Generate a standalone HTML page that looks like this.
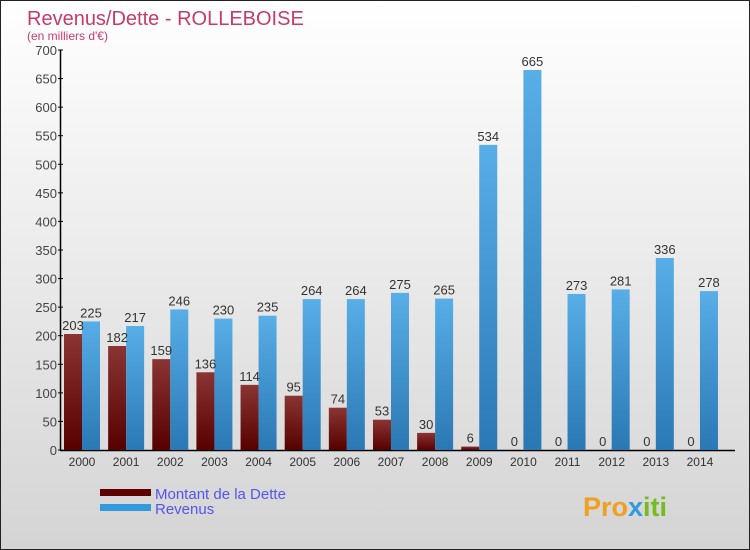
<!DOCTYPE html>
<html><head><meta charset="utf-8"><style>
body{margin:0}
#c{width:750px;height:550px;position:relative;overflow:hidden;font-family:"Liberation Sans",sans-serif}
</style></head><body>
<div id="c">
<svg width="750" height="550" xmlns="http://www.w3.org/2000/svg">
<defs>
<linearGradient id="bg" x1="0" y1="0" x2="0" y2="1"><stop offset="0" stop-color="#ffffff"/><stop offset="1" stop-color="#d4d4d4"/></linearGradient>
<linearGradient id="gd" x1="0" y1="0" x2="0" y2="1"><stop offset="0" stop-color="#8a3434"/><stop offset="1" stop-color="#560000"/></linearGradient>
<linearGradient id="gr" x1="0" y1="0" x2="0" y2="1"><stop offset="0" stop-color="#58aee6"/><stop offset="1" stop-color="#2a78b4"/></linearGradient>
</defs>
<rect x="0.5" y="0.5" width="749" height="549" fill="url(#bg)" stroke="#222"/>
<text x="27" y="25" font-size="20" fill="#c83a6a">Revenus/Dette - ROLLEBOISE</text>
<text x="27" y="40" font-size="12" fill="#c83a6a">(en milliers d'€)</text>
<g id="axes"></g>
<g id="bars"></g>
<rect x="100" y="489" width="51" height="7" fill="#5e0000"/>
<rect x="100" y="504" width="51" height="7" fill="#3399dd"/>
<text x="155" y="499" font-size="15" fill="#5555ee">Montant de la Dette</text>
<text x="155" y="514" font-size="15" fill="#5555ee">Revenus</text>
<text x="583" y="516" font-size="27" font-weight="bold" fill="#f0a020">Pro<tspan fill="#3399dd">x</tspan><tspan fill="#77bb22">iti</tspan></text>
</svg>
</div>
<script>
const years=["2000","2001","2002","2003","2004","2005","2006","2007","2008","2009","2010","2011","2012","2013","2014"];
const dette=[203,182,159,136,114,95,74,53,30,6,0,0,0,0,0];
const revenus=[225,217,246,230,235,264,264,275,265,534,665,273,281,336,278];
const ticks=[0,50,100,150,200,250,300,350,400,450,500,550,600,650,700];
const NS="http://www.w3.org/2000/svg";
const y0=450,yTop=50,vmax=700;
const yS=v=>y0-v*(y0-yTop)/vmax;
const xC=i=>82+i*44.14;
function mk(t,a,p){const e=document.createElementNS(NS,t);for(const k in a)e.setAttribute(k,a[k]);p.appendChild(e);return e;}
const ax=document.getElementById('axes'),bars=document.getElementById('bars');
let l=mk('line',{x1:60.5,y1:50,x2:60.5,y2:450,stroke:'#000','stroke-width':1.5},ax);


l=mk('line',{x1:60,y1:450.5,x2:735,y2:450.5,stroke:'#000','stroke-width':1.5},ax);


ticks.forEach(t=>{
 mk('line',{x1:58,x2:63,y1:yS(t),y2:yS(t),stroke:'#000'},ax);
 const tx=mk('text',{x:57,y:yS(t)+5,'font-size':13,fill:'#444','text-anchor':'end'},ax);
 tx.textContent=t;
 
 
});
years.forEach((yr,i)=>{
 const c=xC(i);
 const tx=mk('text',{x:c,y:466,'font-size':12,fill:'#333','text-anchor':'middle'},ax);
 tx.textContent=yr;
 
 
 const d=dette[i],r=revenus[i];
 const bd=mk('rect',{x:c-18,y:yS(d),width:18,height:y0-yS(d),fill:'url(#gd)'},bars);
 
 
 const br=mk('rect',{x:c,y:yS(r),width:18,height:y0-yS(r),fill:'url(#gr)'},bars);
 
 
 const ld=mk('text',{x:c-9,y:yS(d)-4,'font-size':13,fill:'#333','text-anchor':'middle'},bars);
 ld.textContent=d;
 
 
 const lr=mk('text',{x:c+9,y:yS(r)-4,'font-size':13,fill:'#333','text-anchor':'middle'},bars);
 lr.textContent=r;
 
 
});
</script>
</body></html>
